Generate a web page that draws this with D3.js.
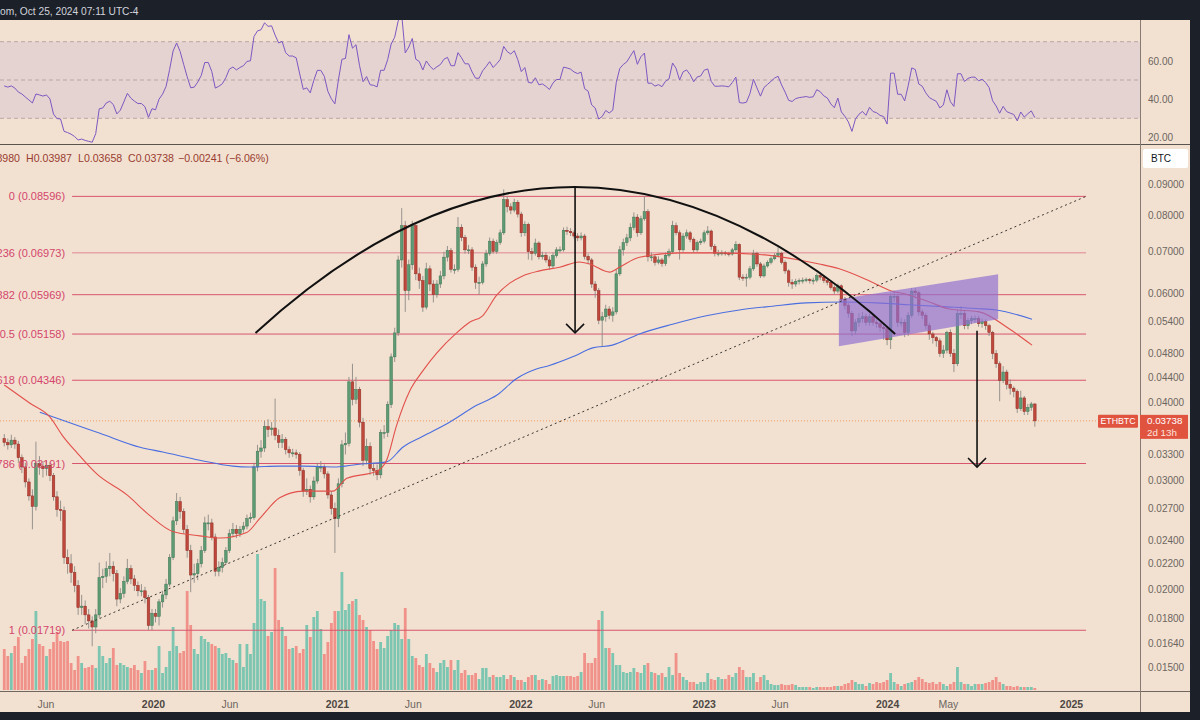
<!DOCTYPE html>
<html><head><meta charset="utf-8">
<script src="https://cdn.jsdelivr.net/npm/d3@7"></script>
<style>
html,body{margin:0;padding:0;background:#1c2029;}
svg{display:block;font-family:"Liberation Sans",Arial,sans-serif;}
</style>
</head><body>
<svg id="c" width="1200" height="720"></svg>
<script>
// ---------------- DATA ----------------
const firstWeek = "2019-03-11";   // weekly ETHBTC candles
const firstOpen = 0.0350;
const closes = [0.0345,0.0342,0.0348,0.0343,0.0326,0.0315,0.0298,0.0283,0.0272,0.0319,
0.0316,0.0313,0.0317,0.0305,0.0282,0.0269,0.0268,0.0225,0.0220,0.0213,
0.0203,0.0187,0.0188,0.0182,0.0178,0.0174,0.0182,0.0209,0.0210,0.0216,
0.0218,0.0212,0.0193,0.0197,0.0206,0.0216,0.0208,0.0203,0.0199,0.0199,
0.0194,0.0175,0.0183,0.0181,0.0191,0.0196,0.0204,0.0225,0.0258,0.0277,
0.0267,0.0250,0.0231,0.0211,0.0212,0.0220,0.0231,0.0256,0.0256,0.0243,
0.0214,0.0217,0.0221,0.0231,0.0246,0.0250,0.0246,0.0250,0.0253,0.0260,
0.0261,0.0315,0.0334,0.0338,0.0366,0.0362,0.0364,0.0354,0.0345,0.0349,
0.0336,0.0332,0.0332,0.0330,0.0311,0.0288,0.0290,0.0282,0.0299,0.0315,
0.0315,0.0307,0.0284,0.0270,0.0260,0.0296,0.0342,0.0344,0.0432,0.0405,
0.0420,0.0372,0.0323,0.0340,0.0313,0.0311,0.0306,0.0358,0.0358,0.0397,
0.0474,0.0518,0.0679,0.0771,0.0606,0.0667,0.0771,0.0645,0.0629,0.0570,
0.0657,0.0621,0.0597,0.0621,0.0640,0.0686,0.0703,0.0656,0.0656,0.0766,
0.0738,0.0705,0.0705,0.0661,0.0625,0.0625,0.0669,0.0696,0.0728,0.0701,
0.0724,0.0751,0.0849,0.0827,0.0817,0.0841,0.0805,0.0751,0.0775,0.0700,
0.0696,0.0723,0.0687,0.0691,0.0679,0.0664,0.0690,0.0705,0.0705,0.0758,
0.0755,0.0751,0.0742,0.0737,0.0742,0.0688,0.0679,0.0621,0.0606,0.0543,
0.0550,0.0566,0.0553,0.0560,0.0645,0.0705,0.0724,0.0737,0.0766,0.0796,
0.0751,0.0791,0.0812,0.0687,0.0687,0.0673,0.0679,0.0670,0.0691,0.0700,
0.0771,0.0751,0.0705,0.0742,0.0751,0.0733,0.0705,0.0724,0.0728,0.0751,
0.0756,0.0714,0.0696,0.0696,0.0697,0.0696,0.0694,0.0705,0.0719,0.0637,
0.0635,0.0637,0.0657,0.0696,0.0669,0.0640,0.0664,0.0673,0.0682,0.0691,
0.0696,0.0673,0.0652,0.0625,0.0621,0.0627,0.0629,0.0630,0.0631,0.0629,
0.0630,0.0641,0.0637,0.0629,0.0625,0.0613,0.0605,0.0617,0.0586,0.0574,
0.0557,0.0522,0.0539,0.0546,0.0550,0.0539,0.0550,0.0539,0.0536,0.0529,
0.0526,0.0505,0.0593,0.0593,0.0539,0.0539,0.0519,0.0553,0.0605,0.0601,
0.0560,0.0553,0.0532,0.0516,0.0509,0.0503,0.0480,0.0486,0.0519,0.0480,
0.0462,0.0557,0.0557,0.0532,0.0542,0.0546,0.0546,0.0536,0.0540,0.0532,
0.0519,0.0480,0.0462,0.0434,0.0448,0.0428,0.0422,0.0417,0.0391,0.0407,
0.0387,0.0393,0.0398,0.03738];
const highs = [0.0356,0.0350,0.0355,0.0352,0.0347,0.0330,0.0320,0.0302,0.0290,0.0346,
0.0328,0.0322,0.0323,0.0320,0.0308,0.0288,0.0278,0.0272,0.0232,0.0228,
0.0218,0.0207,0.0196,0.0192,0.0186,0.0181,0.0186,0.0221,0.0216,0.0222,
0.0229,0.0222,0.0215,0.0201,0.0210,0.0224,0.0219,0.0211,0.0206,0.0204,
0.0202,0.0196,0.0186,0.0186,0.0193,0.0199,0.0208,0.0228,0.0262,0.0286,
0.0282,0.0270,0.0254,0.0236,0.0220,0.0224,0.0235,0.0262,0.0264,0.0260,
0.0246,0.0222,0.0225,0.0234,0.0250,0.0256,0.0254,0.0253,0.0257,0.0264,
0.0266,0.0320,0.0342,0.0348,0.0374,0.0376,0.0372,0.0406,0.0362,0.0356,
0.0352,0.0340,0.0337,0.0336,0.0333,0.0314,0.0302,0.0294,0.0304,0.0320,
0.0322,0.0318,0.0310,0.0288,0.0276,0.0302,0.0348,0.0358,0.0440,0.0462,
0.0440,0.0424,0.0378,0.0350,0.0345,0.0320,0.0318,0.0362,0.0368,0.0402,
0.0480,0.0528,0.0690,0.0823,0.0785,0.0680,0.0785,0.0778,0.0660,0.0640,
0.0672,0.0665,0.0630,0.0630,0.0652,0.0700,0.0715,0.0710,0.0668,0.0796,
0.0775,0.0745,0.0718,0.0712,0.0668,0.0638,0.0676,0.0705,0.0738,0.0735,
0.0732,0.0760,0.0882,0.0860,0.0838,0.0852,0.0848,0.0812,0.0784,0.0780,
0.0710,0.0735,0.0728,0.0700,0.0698,0.0688,0.0698,0.0712,0.0714,0.0766,
0.0768,0.0764,0.0758,0.0750,0.0752,0.0748,0.0695,0.0684,0.0628,0.0612,
0.0560,0.0575,0.0572,0.0570,0.0655,0.0715,0.0735,0.0748,0.0778,0.0810,
0.0805,0.0800,0.0860,0.0820,0.0698,0.0694,0.0688,0.0684,0.0698,0.0708,
0.0785,0.0780,0.0758,0.0750,0.0760,0.0756,0.0738,0.0730,0.0735,0.0758,
0.0770,0.0760,0.0720,0.0705,0.0704,0.0702,0.0700,0.0710,0.0728,0.0722,
0.0644,0.0645,0.0664,0.0705,0.0700,0.0674,0.0670,0.0678,0.0688,0.0696,
0.0712,0.0700,0.0678,0.0656,0.0632,0.0633,0.0634,0.0636,0.0636,0.0635,
0.0636,0.0646,0.0648,0.0642,0.0634,0.0630,0.0618,0.0622,0.0620,0.0592,
0.0580,0.0562,0.0545,0.0558,0.0560,0.0556,0.0556,0.0555,0.0545,0.0542,
0.0536,0.0530,0.0600,0.0606,0.0598,0.0548,0.0545,0.0560,0.0612,0.0612,
0.0606,0.0565,0.0558,0.0538,0.0520,0.0512,0.0508,0.0495,0.0522,0.0525,
0.0488,0.0565,0.0572,0.0562,0.0548,0.0552,0.0553,0.0552,0.0546,0.0545,
0.0536,0.0522,0.0486,0.0466,0.0458,0.0452,0.0436,0.0425,0.0420,0.0418,
0.0410,0.0398,0.0401,0.03987];
const lows = [0.0340,0.0336,0.0338,0.0337,0.0320,0.0308,0.0292,0.0278,0.0250,0.0268,
0.0306,0.0303,0.0305,0.0299,0.0278,0.0262,0.0258,0.0220,0.0212,0.0205,
0.0198,0.0182,0.0182,0.0176,0.0173,0.0162,0.0170,0.0180,0.0201,0.0205,
0.0210,0.0206,0.0188,0.0190,0.0194,0.0204,0.0204,0.0199,0.0195,0.0195,
0.0190,0.0172,0.0172,0.0177,0.0175,0.0187,0.0193,0.0202,0.0223,0.0254,
0.0260,0.0246,0.0225,0.0198,0.0205,0.0207,0.0217,0.0229,0.0249,0.0240,
0.0210,0.0210,0.0213,0.0219,0.0229,0.0243,0.0242,0.0243,0.0247,0.0250,
0.0256,0.0259,0.0310,0.0326,0.0333,0.0352,0.0354,0.0348,0.0338,0.0338,
0.0330,0.0326,0.0327,0.0325,0.0305,0.0282,0.0284,0.0276,0.0279,0.0296,
0.0309,0.0302,0.0280,0.0264,0.0229,0.0252,0.0292,0.0330,0.0340,0.0396,
0.0398,0.0365,0.0316,0.0318,0.0306,0.0305,0.0300,0.0302,0.0350,0.0352,
0.0392,0.0465,0.0512,0.0660,0.0560,0.0585,0.0655,0.0630,0.0610,0.0560,
0.0565,0.0605,0.0580,0.0590,0.0612,0.0632,0.0675,0.0648,0.0645,0.0650,
0.0728,0.0695,0.0694,0.0652,0.0610,0.0597,0.0620,0.0662,0.0690,0.0695,
0.0695,0.0718,0.0745,0.0810,0.0805,0.0810,0.0795,0.0740,0.0742,0.0680,
0.0678,0.0690,0.0680,0.0680,0.0672,0.0655,0.0658,0.0685,0.0698,0.0700,
0.0745,0.0742,0.0735,0.0728,0.0730,0.0680,0.0668,0.0612,0.0590,0.0535,
0.0493,0.0540,0.0545,0.0540,0.0555,0.0640,0.0690,0.0715,0.0728,0.0758,
0.0740,0.0745,0.0785,0.0675,0.0676,0.0665,0.0668,0.0662,0.0664,0.0685,
0.0695,0.0744,0.0680,0.0700,0.0735,0.0725,0.0698,0.0700,0.0718,0.0722,
0.0745,0.0705,0.0688,0.0688,0.0690,0.0690,0.0688,0.0690,0.0700,0.0630,
0.0628,0.0615,0.0632,0.0652,0.0662,0.0635,0.0636,0.0660,0.0668,0.0678,
0.0686,0.0668,0.0645,0.0615,0.0610,0.0615,0.0620,0.0622,0.0625,0.0622,
0.0620,0.0625,0.0630,0.0623,0.0618,0.0608,0.0598,0.0600,0.0580,0.0565,
0.0548,0.0512,0.0515,0.0530,0.0538,0.0532,0.0532,0.0532,0.0528,0.0520,
0.0505,0.0495,0.0488,0.0580,0.0530,0.0530,0.0510,0.0512,0.0548,0.0588,
0.0552,0.0545,0.0525,0.0505,0.0498,0.0492,0.0474,0.0472,0.0480,0.0474,
0.0448,0.0458,0.0545,0.0525,0.0525,0.0535,0.0538,0.0530,0.0528,0.0524,
0.0512,0.0470,0.0455,0.0402,0.0430,0.0420,0.0412,0.0408,0.0385,0.0388,
0.0382,0.0382,0.0388,0.03658];
const volumes = [41,34,37,44,53,27,34,41,51,79,
46,44,34,41,48,58,49,48,49,27,
20,34,27,22,23,25,22,44,34,27,
32,42,25,27,25,23,22,25,20,17,
29,20,20,22,44,17,23,39,63,44,
37,39,99,65,41,36,54,51,48,46,
44,42,36,37,32,30,27,46,23,46,
36,67,136,91,89,54,58,122,70,63,
54,41,42,44,37,41,65,53,73,79,
61,36,48,67,79,79,118,80,86,89,
91,75,70,63,60,49,41,48,42,54,
60,67,65,51,82,51,34,32,25,23,
36,27,22,18,27,30,23,30,20,30,
17,20,15,15,17,11,22,22,13,15,
13,13,15,11,15,13,10,10,8,13,
15,15,10,11,10,6,14,15,14,14,
14,14,13,14,18,37,27,27,32,70,
79,42,42,37,25,25,18,17,18,22,
18,17,25,27,18,17,15,17,13,23,
15,37,17,13,10,8,8,6,8,8,
17,11,10,13,11,11,15,13,17,23,
20,13,13,17,8,13,15,10,6,5,
5,6,5,5,6,5,3,3,3,3,
2,3,3,3,3,3,4,4,4,6,
7,10,8,6,6,4,7,6,8,7,
8,10,17,8,6,4,6,7,8,10,
13,11,8,7,8,6,8,6,4,6,
8,23,8,6,6,4,6,6,6,7,
8,10,13,8,6,4,4,3,4,3,
3,3,3,2];
// RSI values for the first 14 weeks (before RSI(14) can be computed)
const rsiHead = [46.9,46.3,46.9,45.8,43.7,42.7,41.1,39.6,38.0,42.7,42.2,41.6,42.2,40.1];
// moving averages: [week index, price]
const ma50 = [[0,0.0427],[7.3,0.0399],[13,0.0379],[16.7,0.0353],[20.7,0.0332],[26.3,0.0307],[34.9,0.0284],[41.4,0.0263],[47.9,0.0248],[55.6,0.0244],[61.3,0.0242],[68.9,0.0247],[72.6,0.0260],[78.3,0.0281],[84.9,0.0288],[93.4,0.0288],[97.4,0.0302],[105.9,0.0310],[108.7,0.0323],[111.5,0.0367],[115.3,0.0418],[119,0.0450],[123,0.0481],[128.6,0.0518],[132.3,0.0539],[136,0.0552],[140,0.0596],[143.7,0.0623],[147.4,0.0640],[152.2,0.0652],[157.9,0.0661],[163.5,0.0674],[166.4,0.0669],[172.1,0.0649],[174.9,0.0661],[180.6,0.0686],[192,0.0697],[203.3,0.0697],[214.7,0.0693],[226,0.0679],[231.7,0.0669],[237.4,0.0657],[246,0.0628],[251.6,0.0607],[257.3,0.0596],[263,0.0581],[268.7,0.0566],[277.2,0.0560],[285.7,0.0526],[292.2,0.0495]];
const ma200 = [[10.1,0.0386],[15.8,0.0376],[27.2,0.0357],[38.6,0.0339],[45.1,0.0333],[55.6,0.0323],[65,0.0316],[69.8,0.0315],[78.3,0.0316],[84.9,0.0316],[94.5,0.0315],[100.2,0.0318],[108.7,0.0321],[113.3,0.0339],[119,0.0353],[126.6,0.0372],[134.3,0.0396],[140,0.0411],[145.6,0.0437],[151.3,0.0453],[155,0.0459],[161.6,0.0474],[167.3,0.0490],[172.9,0.0495],[180.6,0.0516],[190,0.0535],[199.6,0.0552],[209,0.0564],[218.4,0.0572],[228,0.0579],[238.3,0.0581],[247.9,0.0579],[257.3,0.0575],[266.7,0.0571],[276.3,0.0567],[282,0.0564],[292.2,0.0545]];
const fibRatios = ["0","0.236","0.382","0.5","0.618","0.786","1"];
const fibPrices = [0.08596,0.06973,0.05969,0.05158,0.04346,0.03191,0.01719];
const fibSpan = ["2019-07-24","2025-01-31"];
const arcPoints = [["2020-07-23",0.0518],["2022-04-20",0.1533],["2024-01-17",0.0516]];
const arrowDrops = [["2022-04-20",0.0890,0.0518],["2024-06-28",0.0522,0.0315]];
const channel = [["2023-09-27",0.0587],["2024-08-09",0.0644],["2024-08-09",0.0545],["2023-09-27",0.0493]];
const priceTicks = [0.09,0.08,0.07,0.06,0.054,0.048,0.044,0.04,0.033,0.03,0.027,0.024,0.022,0.02,0.018,0.0164,0.015];
const rsiTicks = [60,40,20];
const rsiBand = [70,50,30];
const timeTicks = [["2019-06-01","Jun"],["2020-01-01","2020"],["2020-06-01","Jun"],["2021-01-01","2021"],["2021-06-01","Jun"],["2022-01-01","2022"],["2022-06-01","Jun"],["2023-01-01","2023"],["2023-06-01","Jun"],["2024-01-01","2024"],["2024-05-01","May"],["2025-01-01","2025"]];
const lastPrice = 0.03738;
const legendItems = ["O0.03980","H0.03987","L0.03658","C0.03738","−0.00241 (−6.06%)"];

// ---------------- DRAW ----------------
const svg = d3.select("#c");
const BG = "#f2e1d1", DARK = "#1c2029";
const parse = d3.utcParse("%Y-%m-%d");
const w0 = parse(firstWeek);
const weekDate = i => new Date(w0.getTime() + i*7*864e5);

const x = d3.scaleUtc().domain([parse("2020-01-01"), parse("2025-01-01")]).range([153, 1071]);
const y = d3.scaleLog().domain([0.015, 0.09]).range([667, 184]);
const yR = d3.scaleLinear().domain([30, 70]).range([118.3, 41.7]);
const vScale = d3.scaleLinear().domain([0, 140]).range([0, 140]);
const VBASE = 690;

svg.append("rect").attr("width",1200).attr("height",720).attr("fill",DARK);
svg.append("rect").attr("x",0).attr("y",20).attr("width",1190).attr("height",692).attr("fill",BG);

const defs = svg.append("defs");
defs.append("clipPath").attr("id","main").append("rect").attr("x",0).attr("y",145).attr("width",1140).attr("height",546);
defs.append("clipPath").attr("id","rsi").append("rect").attr("x",0).attr("y",20).attr("width",1140).attr("height",124);

// top bar text
svg.append("text").attr("x",0).attr("y",14.5).attr("fill","#d1d4dc").attr("font-size",10.2)
  .text("om, Oct 25, 2024 07:11 UTC-4");

// ---- RSI pane ----
const rsiG = svg.append("g").attr("clip-path","url(#rsi)");
rsiG.append("rect").attr("x",0).attr("width",1140).attr("y",yR(70)).attr("height",yR(30)-yR(70)).attr("fill","#e5d3d1");
rsiBand.forEach(v => rsiG.append("line").attr("x1",0).attr("x2",1140).attr("y1",yR(v)).attr("y2",yR(v))
  .attr("stroke","#bba7a5").attr("stroke-dasharray","4,3").attr("stroke-width",1));
// RSI(14) with Wilder smoothing from the weekly closes, after the read head values
const opens = closes.map((c,i)=> i===0 ? firstOpen : closes[i-1]);
const rsi = rsiHead.map((v,i)=>[i,v]);
{ let ag=0, al=0;
  for (let i=1;i<closes.length;i++){
    const ch = closes[i]-closes[i-1], g=Math.max(ch,0), l=Math.max(-ch,0);
    if (i<=14){ ag+=g/14; al+=l/14; } else { ag=(ag*13+g)/14; al=(al*13+l)/14; }
    if (i>=14) rsi.push([i, al===0?100:100-100/(1+ag/al)]);
  }
}
rsiG.append("path").datum(rsi).attr("fill","none").attr("stroke","#7e57c2").attr("stroke-width",1)
  .attr("d", d3.line().x(d=>x(weekDate(d[0]))).y(d=>yR(d[1])));

// ---- main pane ----
const mg = svg.append("g").attr("clip-path","url(#main)");
// volume
mg.selectAll("rect.vol").data(volumes).join("rect").attr("class","vol")
  .attr("x",(d,i)=>x(weekDate(i))-1.4).attr("width",2.8)
  .attr("y",d=>VBASE - vScale(d)).attr("height",d=>vScale(d))
  .attr("fill",(d,i)=> closes[i]>=opens[i] ? "#7cc5b0" : "#f1928a");

// fib lines
const fx1 = x(parse(fibSpan[0])), fx2 = x(parse(fibSpan[1]));
fibPrices.forEach((p,k)=>{
  mg.append("line").attr("x1",fx1).attr("x2",fx2).attr("y1",y(p)).attr("y2",y(p))
    .attr("stroke", k===1 ? "#e6a3a8" : "#d8556d").attr("stroke-width", k===1?1.6:1);
});
// current price dotted
mg.append("line").attr("x1",0).attr("x2",1140).attr("y1",y(lastPrice)).attr("y2",y(lastPrice))
  .attr("stroke","#ef9a5e").attr("stroke-dasharray","1,2").attr("stroke-width",1);

// candles
const cg = mg.append("g");
closes.forEach((c,i)=>{
  const o = opens[i], up = c>=o, cx = x(weekDate(i));
  const h = Math.max(highs[i],o,c), l = Math.min(lows[i],o,c);
  cg.append("line").attr("x1",cx).attr("x2",cx).attr("y1",y(h)).attr("y2",y(l))
    .attr("stroke","#8d8a86").attr("stroke-width",0.9);
  const top = y(Math.max(o,c)), bh = Math.max(1, Math.abs(y(o)-y(c)));
  cg.append("rect").attr("x",cx-1.3).attr("width",2.6).attr("y",top).attr("height",bh)
    .attr("fill", up ? "#5e9b74" : "#bf473b").attr("stroke", up ? "#3f7654" : "#8f2d24").attr("stroke-width",0.5);
});

// fib labels (drawn over candles like the reference)
fibPrices.forEach((p,k)=>{
  svg.append("text").attr("x",fx1-7).attr("y",y(p)+4).attr("text-anchor","end")
    .attr("font-size",11).attr("fill","#d4456b").text(`${fibRatios[k]} (${p.toFixed(5)})`);
});

// moving averages
const maLine = d3.line().x(d=>x(weekDate(d[0]))).y(d=>y(d[1])).curve(d3.curveMonotoneX);
mg.append("path").datum(ma200).attr("fill","none").attr("stroke","#4a6ee0").attr("stroke-width",1.1).attr("d",maLine);
mg.append("path").datum(ma50).attr("fill","none").attr("stroke","#e2504b").attr("stroke-width",1.1).attr("d",maLine);

// drawings
mg.append("path").attr("d", d3.line()(channel.map(d=>[x(parse(d[0])), y(d[1])])) + "Z")
  .attr("fill","#8f6fd2").attr("fill-opacity",0.68);
mg.append("line").attr("x1",fx1).attr("y1",y(fibPrices[6])).attr("x2",fx2).attr("y2",y(fibPrices[0]))
  .attr("stroke","#3a3632").attr("stroke-width",1).attr("stroke-dasharray","2,3");
const ap = arcPoints.map(d=>[x(parse(d[0])), y(d[1])]);
mg.append("path").attr("d",`M${ap[0][0]},${ap[0][1]} Q${ap[1][0]},${ap[1][1]} ${ap[2][0]},${ap[2][1]}`)
  .attr("fill","none").attr("stroke","#111").attr("stroke-width",2);
arrowDrops.forEach(a=>{
  const ax = x(parse(a[0])), y1 = y(a[1]), y2 = y(a[2]);
  mg.append("line").attr("x1",ax).attr("x2",ax).attr("y1",y1).attr("y2",y2).attr("stroke","#111").attr("stroke-width",1.6);
  mg.append("path").attr("d",`M${ax-9},${y2-9} L${ax},${y2} L${ax+9},${y2-9}`).attr("fill","none")
    .attr("stroke","#111").attr("stroke-width",1.6);
});

// legend line (OHLC of last candle)
const legendX = [20, 26, 78, 128, 178];
legendItems.forEach((t,k)=>{
  svg.append("text").attr("x",legendX[k]).attr("y",162).attr("text-anchor", k===0?"end":"start")
    .attr("font-size",10.6).attr("fill","#9a3c30").text(t);
});

// ---- frame lines ----
svg.append("line").attr("x1",0).attr("x2",1190).attr("y1",144.5).attr("y2",144.5).attr("stroke","#5a544e").attr("stroke-width",1);
svg.append("line").attr("x1",0).attr("x2",1190).attr("y1",691.5).attr("y2",691.5).attr("stroke","#6e665f").attr("stroke-width",1);
svg.append("line").attr("x1",1140.5).attr("x2",1140.5).attr("y1",20).attr("y2",712).attr("stroke","#857b73").attr("stroke-width",1);

// ---- axes ----
const FONT = "'Liberation Sans', Arial, sans-serif";
const yAxis = d3.axisRight(y).tickValues(priceTicks).tickFormat(d3.format(".5f")).tickSize(0).tickPadding(7);
const ya = svg.append("g").attr("transform","translate(1141,0)").call(yAxis);
ya.select(".domain").remove();
ya.selectAll("text").attr("fill","#6d6660").attr("font-size",10).attr("font-family",FONT);

const rAxis = d3.axisRight(yR).tickValues(rsiTicks).tickFormat(d3.format(".2f")).tickSize(0).tickPadding(7);
const ra = svg.append("g").attr("transform","translate(1141,0)").call(rAxis);
ra.select(".domain").remove();
ra.selectAll("text").attr("fill","#6d6660").attr("font-size",10).attr("font-family",FONT);

const tickMap = new Map(timeTicks.map(t=>[+parse(t[0]), t[1]]));
const xAxis = d3.axisBottom(x).tickValues(timeTicks.map(t=>parse(t[0]))).tickFormat(d=>tickMap.get(+d)).tickSize(0).tickPadding(9);
const xa = svg.append("g").attr("transform","translate(0,692)").call(xAxis);
xa.select(".domain").remove();
xa.selectAll("text").attr("font-size",10.5).attr("font-family",FONT)
  .attr("fill", d=> /^\d/.test(tickMap.get(+d)) ? "#4e4843" : "#6d6660")
  .attr("font-weight", d=> /^\d/.test(tickMap.get(+d)) ? 700 : 400);

// ---- tags ----
svg.append("rect").attr("x",1143).attr("y",149).attr("width",45).attr("height",19).attr("rx",2).attr("fill","#ffffff");
svg.append("text").attr("x",1151).attr("y",162).attr("font-size",10).attr("fill","#131722").text("BTC");

const ly = y(lastPrice);
svg.append("rect").attr("x",1098).attr("y",ly-6).attr("width",40).attr("height",13).attr("rx",1).attr("fill","#e0533f");
svg.append("text").attr("x",1118).attr("y",ly+3.5).attr("text-anchor","middle").attr("font-size",8.8).attr("fill","#fff").text("ETHBTC");
svg.append("rect").attr("x",1140).attr("y",ly-6).attr("width",48).attr("height",24).attr("fill","#e0533f");
svg.append("text").attr("x",1147).attr("y",ly+3.5).attr("font-size",9.8).attr("fill","#fff").text(lastPrice.toFixed(5));
svg.append("text").attr("x",1147).attr("y",ly+15).attr("font-size",9.8).attr("fill","#fde3dc").text("2d 13h");
</script>
</body></html>
